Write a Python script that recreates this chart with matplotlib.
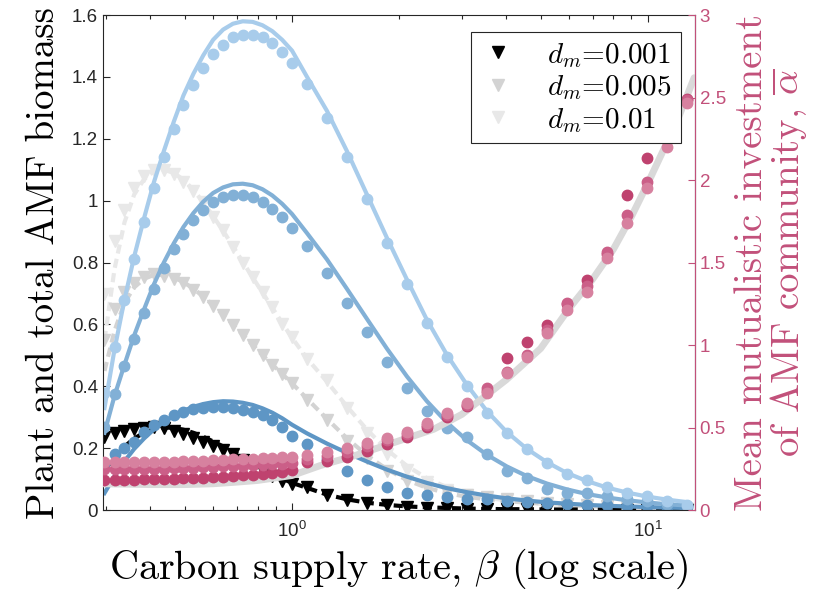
import matplotlib
matplotlib.use('Agg')
import matplotlib.pyplot as plt
from matplotlib.lines import Line2D
from matplotlib.ticker import FixedLocator, NullFormatter

plt.rcParams['font.family'] = 'Liberation Sans'
plt.rcParams['mathtext.fontset'] = 'custom'
plt.rcParams['mathtext.rm'] = 'Liberation Sans'
plt.rcParams['mathtext.it'] = 'Liberation Sans:italic'

# carbon supply rate grid (dense below 1, sparse above)
beta_dense = [0.297, 0.317, 0.338, 0.360, 0.384, 0.409, 0.436, 0.465, 0.495, 0.528,
              0.563, 0.600, 0.640, 0.682, 0.727, 0.775, 0.826, 0.880, 0.938, 1.000]
beta_sparse = [1.102, 1.254, 1.427, 1.624, 1.848, 2.104, 2.394, 2.725, 3.101, 3.530,
               4.018, 4.573, 5.204, 5.924, 6.743, 7.674, 8.735, 9.940, 11.31, 12.88]
beta = beta_dense + beta_sparse

# total AMF biomass, simulations (dots) and analytic (lines)
amf_light = [0.378, 0.527, 0.679, 0.811, 0.931, 1.040, 1.141, 1.231, 1.309, 1.373,
             1.429, 1.474, 1.503, 1.529, 1.535, 1.535, 1.529, 1.509, 1.480, 1.445,
             1.377, 1.267, 1.141, 1.005, 0.863, 0.731, 0.604, 0.494, 0.401, 0.313,
             0.249, 0.197, 0.152, 0.118, 0.097, 0.074, 0.055, 0.045, 0.030, 0.015]
amf_light_line = [0.33, 0.52, 0.68, 0.82, 0.945, 1.06, 1.16, 1.255, 1.34, 1.41,
                  1.47, 1.52, 1.553, 1.572, 1.58, 1.578, 1.567, 1.548, 1.52, 1.485,
                  1.40, 1.29, 1.16, 1.02, 0.88, 0.745, 0.615, 0.502, 0.405, 0.32,
                  0.252, 0.198, 0.155, 0.12, 0.094, 0.073, 0.057, 0.044, 0.034, 0.026]
amf_mid = [0.27, 0.375, 0.467, 0.553, 0.638, 0.715, 0.782, 0.843, 0.892, 0.937,
           0.970, 0.995, 1.012, 1.018, 1.018, 1.012, 0.995, 0.973, 0.947, 0.911,
           0.853, 0.766, 0.669, 0.575, 0.478, 0.396, 0.320, 0.265, 0.235, 0.183,
           0.126, 0.103, 0.068, 0.054, 0.055, 0.045, 0.035, 0.028, 0.020, 0.012]
amf_mid_line = [0.25, 0.37, 0.47, 0.565, 0.65, 0.73, 0.80, 0.862, 0.915, 0.96,
                0.997, 1.025, 1.043, 1.053, 1.055, 1.05, 1.037, 1.017, 0.99, 0.957,
                0.895, 0.81, 0.715, 0.618, 0.522, 0.432, 0.352, 0.283, 0.226, 0.179,
                0.141, 0.110, 0.086, 0.067, 0.052, 0.041, 0.032, 0.025, 0.019, 0.015]
amf_dark = [0.15, 0.181, 0.201, 0.221, 0.253, 0.275, 0.291, 0.307, 0.318, 0.326,
            0.331, 0.333, 0.333, 0.331, 0.325, 0.318, 0.307, 0.291, 0.269, 0.239,
            0.213, 0.165, 0.128, 0.096, 0.074, 0.057, 0.048, 0.042, 0.037, 0.035,
            0.030, 0.025, 0.022, 0.020, 0.018, 0.016, 0.014, 0.012, 0.010, 0.009]
amf_dark_line = [0.055, 0.11, 0.158, 0.198, 0.232, 0.261, 0.285, 0.305, 0.321, 0.334,
                 0.343, 0.349, 0.352, 0.351, 0.347, 0.34, 0.329, 0.315, 0.297, 0.276,
                 0.248, 0.215, 0.185, 0.157, 0.131, 0.108, 0.088, 0.071, 0.058, 0.047,
                 0.038, 0.031, 0.025, 0.021, 0.017, 0.014, 0.012, 0.010, 0.008, 0.007]

# plant biomass for each d_m (triangles) and analytic (dashed)
plant_001 = [0.236, 0.248, 0.256, 0.262, 0.266, 0.268, 0.264, 0.257, 0.246, 0.234,
             0.22, 0.207, 0.194, 0.18, 0.162, 0.145, 0.128, 0.11, 0.095, 0.085,
             0.074, 0.048, 0.032, 0.022, 0.016, 0.011, 0.008, 0.006, 0.005, 0.004,
             0.004, 0.003, 0.003, 0.003, 0.002, 0.002, 0.002, 0.002, 0.002, 0.002]
plant_001_line = [0.13, 0.17, 0.205, 0.232, 0.25, 0.262, 0.267, 0.266, 0.26, 0.25,
                  0.237, 0.222, 0.206, 0.189, 0.171, 0.153, 0.135, 0.118, 0.102, 0.088,
                  0.072, 0.05, 0.035, 0.024, 0.017, 0.012, 0.009, 0.007, 0.005, 0.004,
                  0.003, 0.003, 0.002, 0.002, 0.002, 0.002, 0.001, 0.001, 0.001, 0.001]
plant_005 = [0.55, 0.65, 0.705, 0.735, 0.752, 0.762, 0.758, 0.748, 0.733, 0.712,
             0.688, 0.66, 0.63, 0.598, 0.566, 0.533, 0.5, 0.47, 0.44, 0.41,
             0.356, 0.29, 0.225, 0.17, 0.125, 0.095, 0.07, 0.058, 0.048, 0.042,
             0.035, 0.029, 0.024, 0.02, 0.016, 0.013, 0.01, 0.008, 0.006, 0.005]
plant_005_line = [0.45, 0.58, 0.67, 0.72, 0.748, 0.76, 0.76, 0.752, 0.737, 0.716,
                  0.69, 0.662, 0.632, 0.6, 0.567, 0.534, 0.501, 0.47, 0.44, 0.41,
                  0.36, 0.295, 0.232, 0.177, 0.132, 0.097, 0.072, 0.055, 0.043, 0.035,
                  0.029, 0.024, 0.02, 0.016, 0.013, 0.011, 0.009, 0.007, 0.006, 0.005]
plant_01 = [0.70, 0.87, 0.97, 1.04, 1.08, 1.10, 1.10, 1.085, 1.06, 1.03,
            0.995, 0.948, 0.905, 0.852, 0.80, 0.753, 0.705, 0.656, 0.60, 0.56,
            0.49, 0.42, 0.33, 0.25, 0.18, 0.13, 0.09, 0.065, 0.05, 0.04,
            0.032, 0.026, 0.021, 0.017, 0.014, 0.011, 0.009, 0.007, 0.005, 0.004]
plant_01_line = [0.55, 0.78, 0.93, 1.02, 1.07, 1.095, 1.1, 1.09, 1.068, 1.035,
                 0.995, 0.95, 0.903, 0.853, 0.802, 0.752, 0.703, 0.654, 0.605, 0.557,
                 0.49, 0.415, 0.335, 0.26, 0.195, 0.143, 0.103, 0.074, 0.054, 0.04,
                 0.031, 0.024, 0.019, 0.015, 0.012, 0.01, 0.008, 0.006, 0.005, 0.004]

# mean mutualistic investment (right axis)
alpha_light = [0.29, 0.29, 0.29, 0.29, 0.29, 0.29, 0.29, 0.293, 0.295, 0.297,
               0.3, 0.302, 0.305, 0.307, 0.31, 0.312, 0.315, 0.318, 0.32, 0.323,
               0.333, 0.35, 0.375, 0.405, 0.436, 0.473, 0.527, 0.588, 0.648, 0.709,
               0.83, 0.927, 1.073, 1.212, 1.321, 1.527, 1.739, 1.952, 2.2, 2.467]
alpha_mid = [0.25, 0.25, 0.25, 0.25, 0.25, 0.25, 0.252, 0.254, 0.256, 0.258,
             0.26, 0.262, 0.265, 0.267, 0.27, 0.272, 0.275, 0.278, 0.28, 0.283,
             0.31, 0.33, 0.355, 0.39, 0.425, 0.462, 0.515, 0.575, 0.638, 0.739,
             0.84, 0.94, 1.09, 1.255, 1.36, 1.564, 1.788, 1.988, 2.25, 2.485]
alpha_dark = [0.185, 0.185, 0.185, 0.185, 0.186, 0.187, 0.188, 0.19, 0.192, 0.194,
              0.197, 0.2, 0.203, 0.207, 0.211, 0.215, 0.22, 0.226, 0.233, 0.242,
              0.293, 0.3, 0.32, 0.36, 0.4, 0.445, 0.505, 0.565, 0.63, 0.72,
              0.92, 1.018, 1.12, 1.25, 1.394, 1.55, 1.909, 2.133, 2.3, 2.49]
alpha_beta = [0.294, 0.4, 0.5, 0.6, 0.7, 0.8, 1.0, 1.2, 1.5, 2.0, 2.5, 3.0,
              4.0, 5.0, 6.0, 7.0, 8.0, 9.0, 10.0, 11.0, 12.0, 13.5]
alpha_line = [0.16, 0.155, 0.155, 0.16, 0.17, 0.18, 0.21, 0.27, 0.33, 0.42, 0.49, 0.58,
              0.79, 0.98, 1.22, 1.40, 1.58, 1.78, 1.98, 2.17, 2.34, 2.62]

dm_labels = ['$d_m$=0.001', '$d_m$=0.005', '$d_m$=0.01']
left_ticks = [0, 0.2, 0.4, 0.6, 0.8, 1.0, 1.2, 1.4, 1.6]
left_ticklabels = ['0', '0.2', '0.4', '0.6', '0.8', '1', '1.2', '1.4', '1.6']
right_ticks = [0, 0.5, 1, 1.5, 2, 2.5, 3]
right_ticklabels = ['0', '0.5', '1', '1.5', '2', '2.5', '3']

BLUE_L = '#a8cceb'
BLUE_M = '#82b0d6'
BLUE_D = '#5e96c5'
GRAY_1 = '#d3d3d3'
GRAY_2 = '#e8e8e8'
PINK_L = '#d7819f'
PINK_M = '#cb5f88'
PINK_D = '#bf426f'
PINK_AX = '#c2507a'

fig = plt.figure(figsize=(8.3, 6.03), dpi=100)
ax = fig.add_axes([0.124, 0.154, 0.713, 0.821])
ax2 = ax.twinx()

# plant biomass: dashed analytic + triangles
for yl, yd, c in [(plant_01_line, plant_01, GRAY_2), (plant_005_line, plant_005, GRAY_1),
                  (plant_001_line, plant_001, 'black')]:
    ax.plot(beta, yl, color=c, lw=3, ls='--', dashes=(2.2, 1.3))
    ax.plot(beta, yd, 'v', color=c, ms=8, ls='none')

# AMF biomass: solid analytic + dots
for yl, yd, c in [(amf_dark_line, amf_dark, BLUE_D), (amf_mid_line, amf_mid, BLUE_M),
                  (amf_light_line, amf_light, BLUE_L)]:
    ax.plot(beta, yl, color=c, lw=3)
    ax.plot(beta, yd, 'o', color=c, ms=7.5, ls='none')

# investment on right axis
ax2.plot(alpha_beta, alpha_line, color='#d9d9d9', lw=5, solid_capstyle='round')
for yd, c in [(alpha_dark, PINK_D), (alpha_mid, PINK_M), (alpha_light, PINK_L)]:
    ax2.plot(beta, yd, 'o', color=c, ms=7.5, ls='none')

ax.set_xscale('log')
ax.set_xlim(0.294, 13.55)
ax.set_ylim(0, 1.6)
ax2.set_ylim(0, 3)

ax.set_xticks([1, 10])
ax.set_xticklabels(['$10^0$', '$10^1$'])
ax.xaxis.set_minor_locator(FixedLocator([0.3, 0.4, 0.5, 0.6, 0.7, 0.8, 0.9,
                                         2, 3, 4, 5, 6, 7, 8, 9]))
ax.xaxis.set_minor_formatter(NullFormatter())
ax.set_yticks(left_ticks)
ax.set_yticklabels(left_ticklabels)
ax2.set_yticks(right_ticks)
ax2.set_yticklabels(right_ticklabels)

ax.tick_params(which='both', direction='in', top=True, right=False, colors='#262626',
               labelsize=13.5, length=5, width=0.8)
ax.tick_params(which='minor', length=3)
ax.tick_params(axis='x', pad=8)
ax2.tick_params(axis='y', direction='in', colors=PINK_AX, labelsize=13.5, length=5, width=0.8)
for s in ['left', 'top', 'bottom']:
    ax.spines[s].set_color('#262626')
ax2.spines['right'].set_color(PINK_AX)
for s in ['left', 'top', 'bottom']:
    ax2.spines[s].set_visible(False)

ax.set_ylabel('Plant and total AMF biomass', fontfamily='cmr10', fontsize=28, labelpad=7)
ax.set_xlabel('Carbon supply rate, $\\beta$ (log scale)', fontfamily='cmr10',
              math_fontfamily='cm', fontsize=29, labelpad=4)
ax2.set_ylabel('Mean mutualistic investment\nof AMF community, $\\overline{\\alpha}$',
               fontfamily='cmr10', math_fontfamily='cm', fontsize=28, color=PINK_AX,
               rotation=90, labelpad=6, linespacing=0.95, multialignment='center')

handles = [Line2D([], [], marker='v', ls='none', color=c, ms=9)
           for c in ['black', GRAY_1, GRAY_2]]
leg = ax2.legend(handles, dm_labels, loc='upper right', bbox_to_anchor=(0.976, 0.966),
                 borderaxespad=0, fancybox=False, edgecolor='#262626', framealpha=1,
                 prop={'family': 'cmr10', 'size': 21}, handlelength=1.2,
                 handletextpad=1.1, borderpad=0.3, labelspacing=0.12)
leg.get_frame().set_linewidth(0.8)
for t in leg.get_texts():
    t.set_math_fontfamily('cm')

fig.savefig('out.png', dpi=100)
